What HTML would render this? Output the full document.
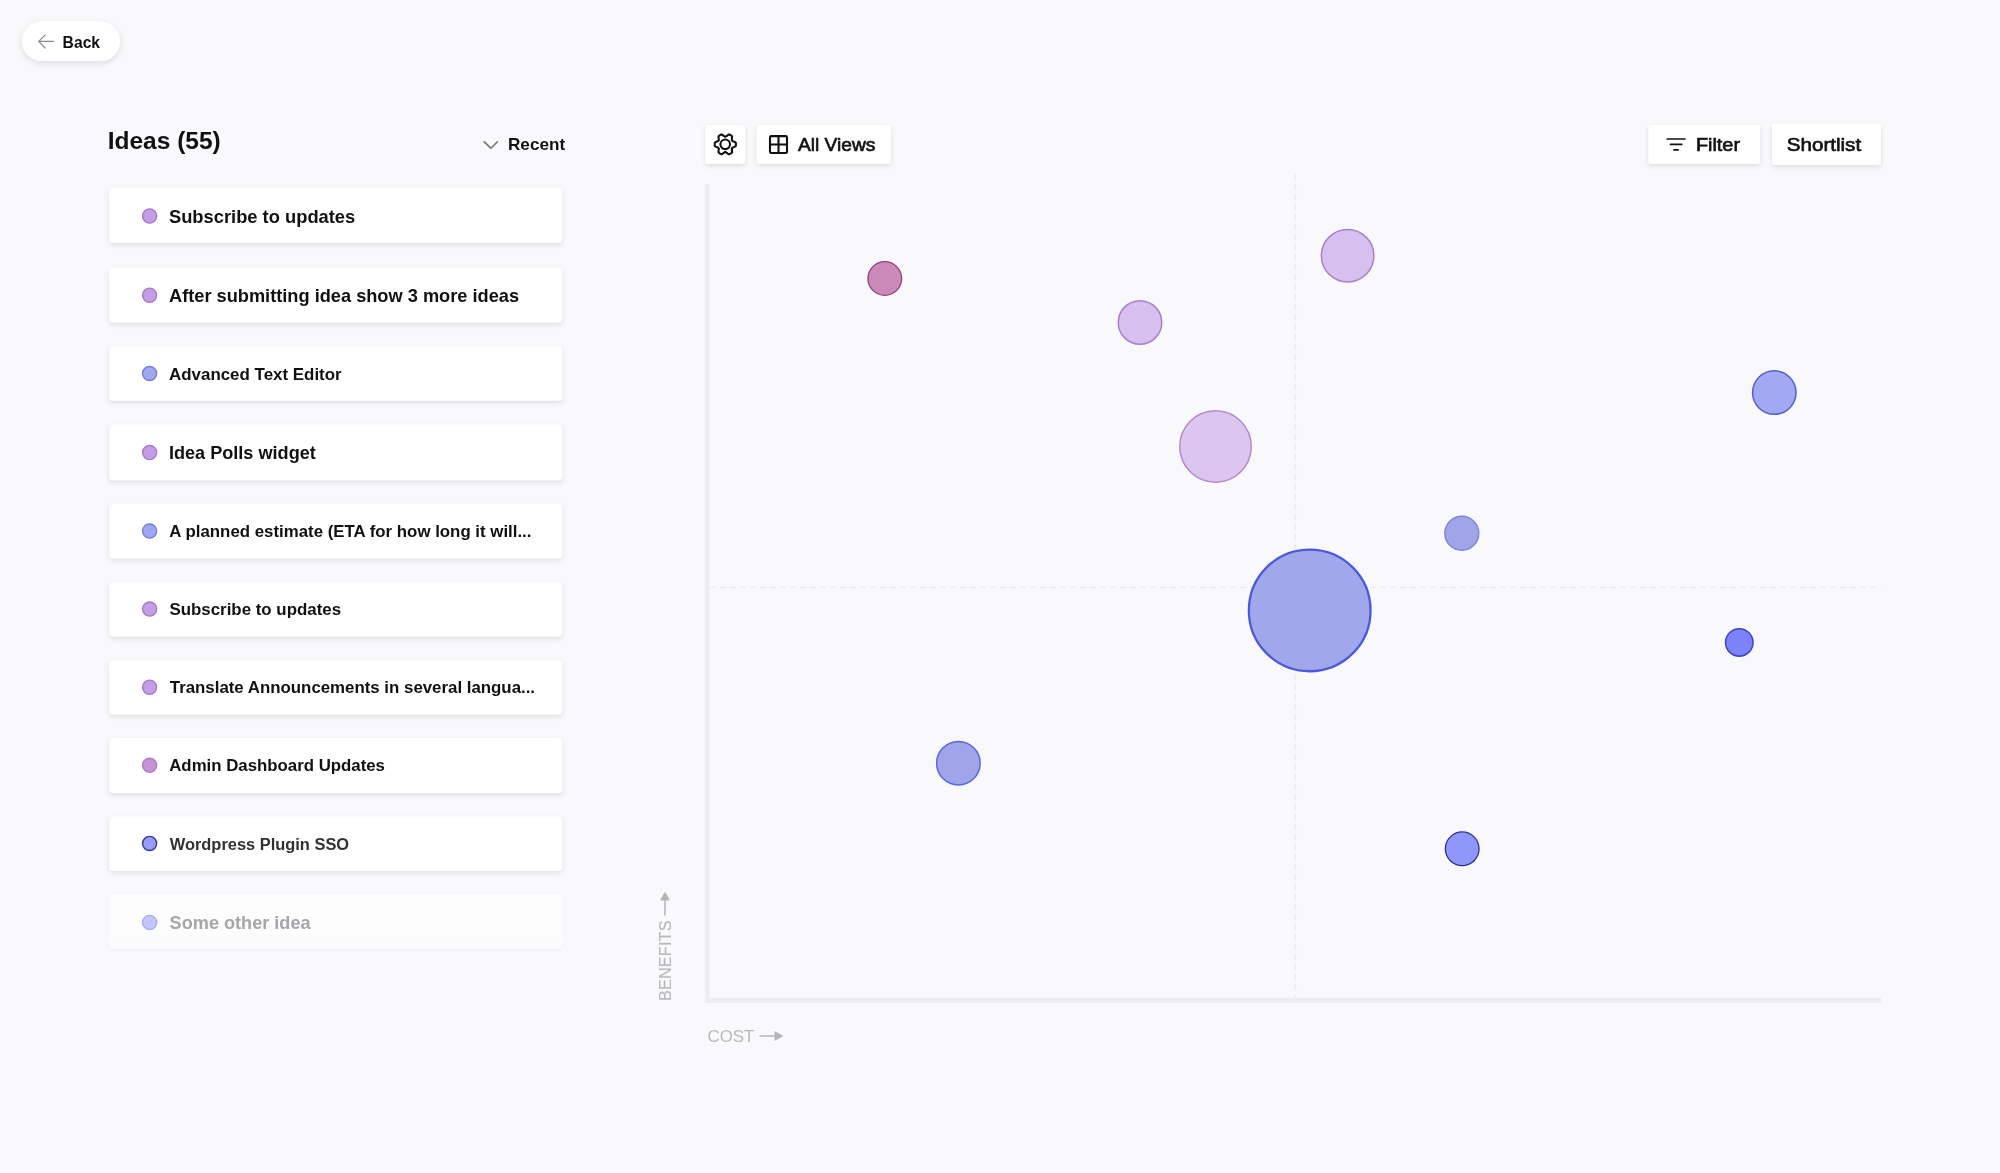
<!DOCTYPE html>
<html><head><meta charset="utf-8"><title>Ideas</title>
<style>
html,body{margin:0;padding:0;}
body{width:2000px;height:1173px;overflow:hidden;background:#f9f9fb;font-family:"Liberation Sans",sans-serif;position:relative;color:#111114;}
svg.bg{position:absolute;left:0;top:0;}
.t{position:absolute;white-space:nowrap;line-height:1;will-change:transform;}
.i{display:inline-block;transform-origin:0 0;}
</style></head><body>
<svg class="bg" width="2000" height="1173" viewBox="0 0 2000 1173">
<defs>
<filter id="sh" filterUnits="userSpaceOnUse" x="0" y="0" width="2000" height="1173"><feDropShadow dx="0" dy="2" stdDeviation="2.5" flood-color="#1a1a24" flood-opacity="0.11"/></filter>
<filter id="shp" x="-20%" y="-50%" width="140%" height="200%"><feDropShadow dx="0" dy="2" stdDeviation="3" flood-color="#1a1a24" flood-opacity="0.13"/></filter>
<filter id="shf" x="-5%" y="-30%" width="110%" height="160%"><feDropShadow dx="0" dy="1" stdDeviation="1.5" flood-color="#1a1a24" flood-opacity="0.045"/></filter>
<linearGradient id="fade" x1="0" y1="0" x2="0" y2="1"><stop offset="0" stop-color="#fdfdfe"/><stop offset="0.55" stop-color="#fdfdfe"/><stop offset="1" stop-color="#fbfbfd"/></linearGradient>
</defs>
<g filter="url(#sh)">
<rect x="109.3" y="187.8" width="452.9" height="55.3" rx="4" fill="#fff"/>
<rect x="109.3" y="267.4" width="452.9" height="55.0" rx="4" fill="#fff"/>
<rect x="109.3" y="346.3" width="452.9" height="54.5" rx="4" fill="#fff"/>
<rect x="109.3" y="424.4" width="452.9" height="55.9" rx="4" fill="#fff"/>
<rect x="109.3" y="503.7" width="452.9" height="54.6" rx="4" fill="#fff"/>
<rect x="109.3" y="582.5" width="452.9" height="54.2" rx="4" fill="#fff"/>
<rect x="109.3" y="660.3" width="452.9" height="54.3" rx="4" fill="#fff"/>
<rect x="109.3" y="738.0" width="452.9" height="55.0" rx="4" fill="#fff"/>
<rect x="109.3" y="816.4" width="452.9" height="54.6" rx="4" fill="#fff"/>
<rect x="705.5" y="124.9" width="39.6" height="39.1" rx="3" fill="#fff"/>
<rect x="756.8" y="124.9" width="134.2" height="39.1" rx="3" fill="#fff"/>
<rect x="1648.5" y="124.9" width="111.5" height="39.1" rx="3" fill="#fff"/>
<rect x="1772" y="123.4" width="109" height="41.6" rx="3" fill="#fff"/>
</g>
<rect x="22" y="21.5" width="98" height="39.6" rx="19.8" fill="#fff" filter="url(#shp)"/>
<path transform="translate(36 31.4)" d="M17.6 10H2.9M9.2 3.4L2.7 10l6.5 6.6" fill="none" stroke="#8b8b90" stroke-width="1.2" stroke-linecap="round" stroke-linejoin="round"/>
<path transform="translate(482 138)" d="M2.2 3.8L8.900 10.2l6.500 -6.400" fill="none" stroke="#727278" stroke-width="1.6" stroke-linecap="round" stroke-linejoin="round"/>
<circle cx="149.6" cy="216.1" r="7.05" fill="#c59de4" stroke="#a47aca" stroke-width="1.4"/>
<circle cx="149.6" cy="295.2" r="7.05" fill="#c59de4" stroke="#a47aca" stroke-width="1.4"/>
<circle cx="149.6" cy="373.5" r="7.05" fill="#a0a7f0" stroke="#747fdc" stroke-width="1.4"/>
<circle cx="149.6" cy="452.6" r="7.05" fill="#c59de4" stroke="#a47aca" stroke-width="1.4"/>
<circle cx="149.6" cy="531.0" r="7.05" fill="#a0a7f0" stroke="#747fdc" stroke-width="1.4"/>
<circle cx="149.6" cy="609.1" r="7.05" fill="#c59de4" stroke="#a47aca" stroke-width="1.4"/>
<circle cx="149.6" cy="687.2" r="7.05" fill="#c59de4" stroke="#a47aca" stroke-width="1.4"/>
<circle cx="149.6" cy="765.3" r="7.05" fill="#c692d8" stroke="#ad7cc6" stroke-width="1.4"/>
<circle cx="149.6" cy="843.4" r="7.05" fill="#979df5" stroke="#30369a" stroke-width="1.4"/>
<rect x="109.3" y="894.3" width="452.9" height="54.6" rx="4" fill="url(#fade)" filter="url(#shf)"/>
<circle cx="149.6" cy="922.4" r="7.05" fill="#c3c6fb" stroke="#a9adee" stroke-width="1.4"/>
<g transform="translate(705 125)" fill="none" stroke="#111114" stroke-width="2.1" stroke-linejoin="round"><path d="M30.90 19.35L30.89 18.98L30.87 18.61L30.84 18.24L30.80 17.87L30.61 17.53L30.20 17.25L29.74 17.00L29.28 16.78L28.82 16.58L28.38 16.41L27.99 16.24L27.65 16.08L27.36 15.91L27.13 15.72L26.97 15.50L26.86 15.25L26.81 14.96L26.81 14.62L26.84 14.24L26.89 13.82L26.95 13.36L27.02 12.86L27.06 12.35L27.07 11.83L27.03 11.33L26.83 11.00L26.53 10.77L26.23 10.56L25.92 10.36L25.60 10.17L25.28 9.99L24.95 9.82L24.61 9.67L24.27 9.52L23.88 9.51L23.43 9.72L22.98 9.99L22.56 10.29L22.16 10.59L21.79 10.88L21.45 11.14L21.14 11.35L20.85 11.52L20.57 11.62L20.30 11.65L20.03 11.62L19.75 11.52L19.46 11.35L19.15 11.14L18.81 10.88L18.44 10.59L18.04 10.29L17.62 9.99L17.17 9.72L16.72 9.51L16.33 9.52L15.99 9.67L15.65 9.82L15.32 9.99L15.00 10.17L14.68 10.36L14.37 10.56L14.07 10.77L13.77 11.00L13.57 11.33L13.53 11.83L13.54 12.35L13.58 12.86L13.65 13.36L13.71 13.82L13.76 14.24L13.79 14.62L13.79 14.96L13.74 15.25L13.63 15.50L13.47 15.72L13.24 15.91L12.95 16.08L12.61 16.24L12.22 16.41L11.78 16.58L11.32 16.78L10.86 17.00L10.40 17.25L9.99 17.53L9.80 17.87L9.76 18.24L9.73 18.61L9.71 18.98L9.70 19.35L9.71 19.72L9.73 20.09L9.76 20.46L9.80 20.83L9.99 21.17L10.40 21.45L10.86 21.70L11.32 21.92L11.78 22.12L12.22 22.29L12.61 22.46L12.95 22.62L13.24 22.79L13.47 22.98L13.63 23.20L13.74 23.45L13.79 23.74L13.79 24.08L13.76 24.46L13.71 24.88L13.65 25.34L13.58 25.84L13.54 26.35L13.53 26.87L13.57 27.37L13.77 27.70L14.07 27.93L14.37 28.14L14.68 28.34L15.00 28.53L15.32 28.71L15.65 28.88L15.99 29.03L16.33 29.18L16.72 29.19L17.17 28.98L17.62 28.71L18.04 28.41L18.44 28.11L18.81 27.82L19.15 27.56L19.46 27.35L19.75 27.18L20.03 27.08L20.30 27.05L20.57 27.08L20.85 27.18L21.14 27.35L21.45 27.56L21.79 27.82L22.16 28.11L22.56 28.41L22.98 28.71L23.43 28.98L23.88 29.19L24.27 29.18L24.61 29.03L24.95 28.88L25.28 28.71L25.60 28.53L25.92 28.34L26.23 28.14L26.53 27.93L26.83 27.70L27.03 27.37L27.07 26.87L27.06 26.35L27.02 25.84L26.95 25.34L26.89 24.88L26.84 24.46L26.81 24.08L26.81 23.74L26.86 23.45L26.97 23.20L27.13 22.98L27.36 22.79L27.65 22.62L27.99 22.46L28.38 22.29L28.82 22.12L29.28 21.92L29.74 21.70L30.20 21.45L30.61 21.17L30.80 20.83L30.84 20.46L30.87 20.09L30.89 19.72Z"/><circle cx="20.2" cy="19.3" r="4.8"/></g>
<g transform="translate(765 131)" fill="none" stroke="#111114" stroke-width="2.1" stroke-linejoin="round"><rect x="5" y="5.1" width="17" height="16.9" rx="1.3"/><path d="M13.5 5.1v16.9M5 13.5h17"/></g>
<path transform="translate(1665 136)" d="M2.2 3H20M5.5 8.4h11.2M9 13.8h4.200" stroke="#111114" stroke-width="1.7" stroke-linecap="round"/>
<path d="M705.1 184H709.3V997.7H1881V1002.7H705.1Z" fill="#ececf1"/>
<g stroke="#ededf1" stroke-width="1.8" stroke-dasharray="6 4" fill="none"><path d="M1295.3 174V998"/><path d="M710 587.3H1881"/></g>
<circle cx="884.8" cy="278.5" r="16.85" fill="#ca8bb9" stroke="#963f7f" stroke-width="1.3"/>
<circle cx="1140.0" cy="322.5" r="21.75" fill="#d7c0ee" stroke="#a77fd1" stroke-width="1.5"/>
<circle cx="1347.6" cy="255.7" r="26.25" fill="#d7c0ee" stroke="#a77fd1" stroke-width="1.5"/>
<circle cx="1215.5" cy="446.5" r="35.75" fill="#dcc6ee" stroke="#b48ad0" stroke-width="1.5"/>
<circle cx="1774.3" cy="392.6" r="21.75" fill="#a3a8f3" stroke="#5560cc" stroke-width="1.5"/>
<circle cx="1461.8" cy="533.3" r="17.0" fill="#a0a5e8" stroke="#8088dd" stroke-width="1.5"/>
<circle cx="1309.7" cy="610.4" r="60.85" fill="#a0a7ea" stroke="#4a5ad8" stroke-width="2.3"/>
<circle cx="1739.3" cy="642.4" r="13.75" fill="#7c83f8" stroke="#3d44c8" stroke-width="1.5"/>
<circle cx="958.4" cy="763.2" r="21.75" fill="#a0a5ea" stroke="#5a66dd" stroke-width="1.5"/>
<circle cx="1462.2" cy="848.8" r="16.85" fill="#8f97fb" stroke="#2c3192" stroke-width="1.3"/>
<g transform="translate(758 1028)"><path d="M2 8h16" stroke="#b4b4be" stroke-width="1.6" stroke-linecap="round"/><path d="M16.500 3l9 5-9 5z" fill="#b4b4be"/></g>
<g transform="translate(657 889)"><path d="M8 26V10" stroke="#b4b4be" stroke-width="1.6" stroke-linecap="round"/><path d="M3 11.500l5-9 5 9z" fill="#b4b4be"/></g>
</svg>
<span class="t" style="left:62px;top:35px;font-size:16.0px;font-weight:bold;color:#111114;"><span class="i" style="transform:translateX(0.62px) scaleX(0.9784)">Back</span></span>
<span class="t" style="left:107px;top:130px;font-size:23.5px;font-weight:bold;color:#111114;"><span class="i" style="transform:translateX(0.71px) scaleX(1.0429)">Ideas (55)</span></span>
<span class="t" style="left:507px;top:136px;font-size:17.0px;font-weight:bold;color:#111114;"><span class="i" style="transform:translateX(0.99px) scaleX(1.0073)">Recent</span></span>
<span class="t" style="left:168px;top:208px;font-size:18.5px;font-weight:bold;color:#111114;"><span class="i" style="transform:translateX(0.91px) scaleX(0.9906)">Subscribe to updates</span></span>
<span class="t" style="left:169px;top:287px;font-size:18.5px;font-weight:bold;color:#111114;"><span class="i" style="transform:translateX(0.02px) scaleX(0.9840)">After submitting idea show 3 more ideas</span></span>
<span class="t" style="left:169px;top:366px;font-size:17.25px;font-weight:bold;color:#111114;"><span class="i" style="transform:translateX(0.02px) scaleX(0.9806)">Advanced Text Editor</span></span>
<span class="t" style="left:168px;top:444px;font-size:18.5px;font-weight:bold;color:#111114;"><span class="i" style="transform:translateX(0.92px) scaleX(0.9785)">Idea Polls widget</span></span>
<span class="t" style="left:169px;top:523px;font-size:17.25px;font-weight:bold;color:#111114;"><span class="i" style="transform:translateX(0.32px) scaleX(0.9755)">A planned estimate (ETA for how long it will...</span></span>
<span class="t" style="left:169px;top:601px;font-size:17.25px;font-weight:bold;color:#111114;"><span class="i" style="transform:translateX(0.42px) scaleX(0.9784)">Subscribe to updates</span></span>
<span class="t" style="left:169px;top:679px;font-size:17.25px;font-weight:bold;color:#111114;"><span class="i" style="transform:translateX(0.80px) scaleX(0.9761)">Translate Announcements in several langua...</span></span>
<span class="t" style="left:169px;top:757px;font-size:17.25px;font-weight:bold;color:#111114;"><span class="i" style="transform:translateX(0.23px) scaleX(0.9743)">Admin Dashboard Updates</span></span>
<span class="t" style="left:169px;top:837px;font-size:16.75px;font-weight:bold;color:#303035;"><span class="i" style="transform:translateX(0.70px) scaleX(0.9802)">Wordpress Plugin SSO</span></span>
<span class="t" style="left:169px;top:914px;font-size:18.5px;font-weight:bold;color:#a6a6ab;"><span class="i" style="transform:translateX(0.62px) scaleX(0.9794)">Some other idea</span></span>
<span class="t" style="left:798px;top:136px;font-size:18.0px;font-weight:normal;color:#111114;-webkit-text-stroke:0.65px #111114;"><span class="i" style="transform:translateX(0.00px) scaleX(1.0644)">All Views</span></span>
<span class="t" style="left:1695px;top:136px;font-size:18.0px;font-weight:normal;color:#111114;-webkit-text-stroke:0.65px #111114;"><span class="i" style="transform:translateX(0.90px) scaleX(1.1026)">Filter</span></span>
<span class="t" style="left:1786px;top:136px;font-size:18.0px;font-weight:normal;color:#111114;-webkit-text-stroke:0.65px #111114;"><span class="i" style="transform:translateX(0.76px) scaleX(1.1437)">Shortlist</span></span>
<span class="t" style="left:707px;top:1028px;font-size:16.5px;font-weight:normal;color:#b9b9c3;"><span class="i" style="transform:translateX(0.48px) scaleX(1.0222)">COST</span></span>
<span class="t" style="left:657px;top:1001px;font-size:16.25px;font-weight:normal;color:#b8b8c2;-webkit-text-stroke:0.2px #b8b8c2;letter-spacing:0.15px;transform:rotate(-90deg);transform-origin:0 0;">BENEFITS</span>
</body></html>
